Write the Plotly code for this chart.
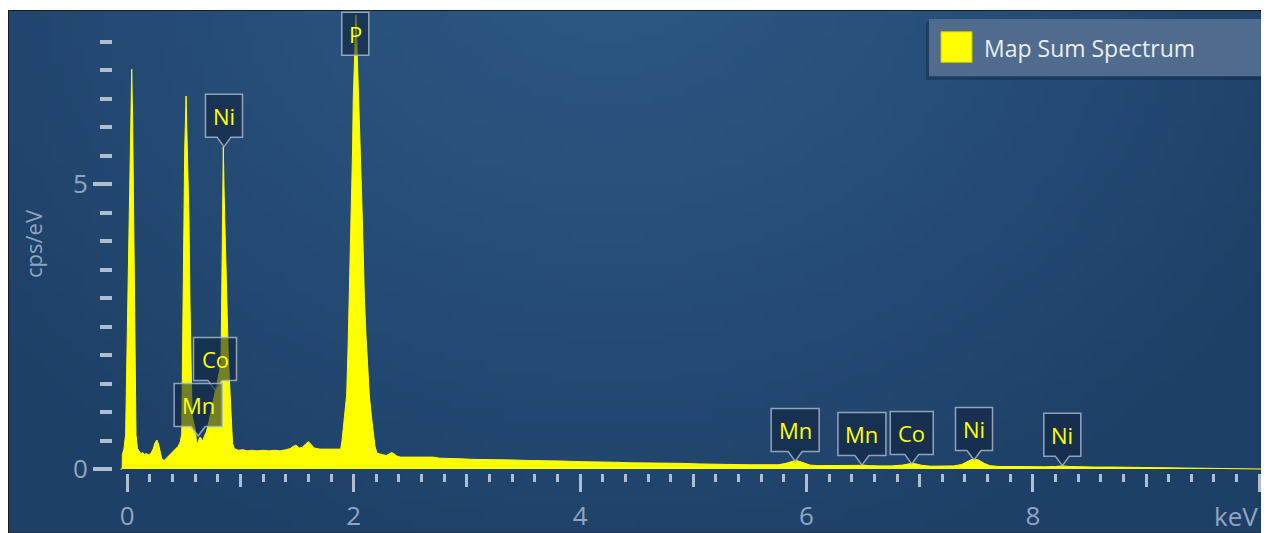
import base64
import struct
import zlib
import plotly.graph_objects as go

# ---------------- data ----------------
energy_kev = [
    -0.060, -0.045, -0.044, -0.030, -0.015, -0.005, 0.004, 0.018, 0.030, 0.039,
    0.047, 0.053, 0.062, 0.068, 0.077, 0.090, 0.105, 0.120, 0.135, 0.150,
    0.170, 0.190, 0.210, 0.230, 0.245, 0.262, 0.275, 0.290, 0.305, 0.325,
    0.345, 0.362, 0.385, 0.406, 0.430, 0.450, 0.468, 0.481, 0.487, 0.491,
    0.497, 0.507, 0.519, 0.531, 0.545, 0.554, 0.563, 0.572, 0.585, 0.598,
    0.610, 0.618, 0.630, 0.642, 0.655, 0.666, 0.680, 0.700, 0.720, 0.740,
    0.760, 0.780, 0.800, 0.815, 0.828, 0.835, 0.842, 0.848, 0.856, 0.866,
    0.878, 0.892, 0.905, 0.918, 0.930, 0.945, 0.980, 1.020, 1.060, 1.100,
    1.150, 1.200, 1.250, 1.300, 1.350, 1.400, 1.440, 1.466, 1.490, 1.520,
    1.545, 1.575, 1.600, 1.625, 1.650, 1.700, 1.750, 1.800, 1.850, 1.885,
    1.897, 1.910, 1.925, 1.938, 1.950, 1.961, 1.972, 1.982, 1.990, 1.996,
    2.005, 2.012, 2.020, 2.028, 2.036, 2.049, 2.060, 2.071, 2.083, 2.094,
    2.110, 2.125, 2.138, 2.155, 2.170, 2.188, 2.205, 2.230, 2.260, 2.290,
    2.315, 2.336, 2.355, 2.380, 2.410, 2.460, 2.520, 2.580, 2.640, 2.700,
    2.760, 2.850, 2.950, 3.050, 3.150, 3.250, 3.400, 3.550, 3.700, 3.850,
    4.000, 4.150, 4.300, 4.450, 4.600, 4.750, 4.900, 5.050, 5.200, 5.350,
    5.500, 5.650, 5.750, 5.820, 5.870, 5.900, 5.930, 5.980, 6.030, 6.100,
    6.200, 6.300, 6.400, 6.470, 6.500, 6.550, 6.650, 6.750, 6.850, 6.900,
    6.930, 6.970, 7.020, 7.100, 7.200, 7.300, 7.370, 7.420, 7.470, 7.520,
    7.570, 7.620, 7.700, 7.800, 7.900, 8.000, 8.100, 8.200, 8.260, 8.320,
    8.400, 8.550, 8.700, 8.900, 9.100, 9.300, 9.500, 9.700, 9.900, 10.030,
    10.040,
]
cps_per_ev = [
    0.00, 0.00, 0.25, 0.35, 0.60, 1.80, 3.10, 5.20, 6.30, 7.02,
    6.20, 5.20, 3.10, 1.80, 0.60, 0.36, 0.31, 0.27, 0.29, 0.26,
    0.27, 0.25, 0.28, 0.36, 0.46, 0.51, 0.44, 0.28, 0.18, 0.15,
    0.19, 0.23, 0.27, 0.32, 0.36, 0.40, 0.48, 0.62, 1.80, 2.90,
    4.40, 5.60, 6.55, 5.50, 4.40, 2.90, 1.80, 0.95, 0.82, 0.72,
    0.50, 0.43, 0.50, 0.56, 0.53, 0.49, 0.57, 0.66, 0.82, 1.00,
    1.20, 1.38, 1.58, 1.72, 1.88, 3.00, 4.70, 5.66, 4.80, 3.95,
    2.90, 2.00, 1.45, 0.85, 0.45, 0.36, 0.33, 0.34, 0.32, 0.33,
    0.32, 0.33, 0.32, 0.33, 0.32, 0.34, 0.36, 0.40, 0.42, 0.37,
    0.38, 0.44, 0.48, 0.43, 0.37, 0.35, 0.35, 0.34, 0.35, 0.35,
    0.50, 0.80, 1.10, 1.30, 2.10, 3.03, 3.90, 4.76, 5.60, 6.49,
    7.20, 7.70, 7.97, 7.50, 7.00, 6.49, 5.60, 4.76, 3.90, 3.03,
    2.30, 1.75, 1.30, 0.95, 0.70, 0.40, 0.28, 0.26, 0.25, 0.24,
    0.26, 0.29, 0.27, 0.23, 0.21, 0.21, 0.20, 0.21, 0.20, 0.21,
    0.19, 0.19, 0.18, 0.17, 0.17, 0.16, 0.16, 0.15, 0.15, 0.14,
    0.13, 0.13, 0.12, 0.11, 0.11, 0.10, 0.10, 0.09, 0.09, 0.08,
    0.075, 0.07, 0.075, 0.10, 0.135, 0.15, 0.14, 0.10, 0.07, 0.06,
    0.06, 0.055, 0.055, 0.065, 0.07, 0.06, 0.055, 0.055, 0.07, 0.09,
    0.10, 0.09, 0.065, 0.05, 0.05, 0.055, 0.08, 0.13, 0.18, 0.16,
    0.10, 0.06, 0.045, 0.045, 0.04, 0.04, 0.04, 0.045, 0.055, 0.045,
    0.04, 0.035, 0.035, 0.03, 0.03, 0.025, 0.022, 0.02, 0.015, 0.012,
    0.0,
]
series_name = "Map Sum Spectrum"

label_text = ["P", "Ni", "Co", "Mn", "Mn", "Mn", "Co", "Ni", "Ni"]
label_kev = [2.014, 0.854, 0.775, 0.626, 5.90, 6.49, 6.93, 7.48, 8.26]
label_cps = [7.10, 5.66, 1.39, 0.58, 0.14, 0.07, 0.09, 0.16, 0.06]
label_has_pointer = [False, True, True, True, True, True, True, True, True]

x_tick_values = [0, 2, 4, 6, 8, 10]
x_tick_labels = ["0", "2", "4", "6", "8", ""]
x_unit_label = "keV"
x_mid_tick_values = [1, 3, 5, 7, 9]
x_minor_tick_values = [round(0.2 * i, 1) for i in range(51) if i % 5]
y_tick_values = [0, 5]
y_tick_labels = ["0", "5"]
y_minor_tick_values = [0.5 * i for i in range(1, 16) if i != 10]
y_title = "cps/eV"

# ---------------- styling / geometry ----------------
# the page body adds an 8 px margin, so the figure starts at (8, 8)
OFF = 8
W, H = 1261, 525
ML, MR, MT, MB = 105, 0, 3, 54
PW = W - ML - MR
PH = H - MT - MB
X_RANGE = [-0.1263, 10.086]
Y_RANGE = [-0.0693, 8.0416]
FONT = "Open Sans"
YELLOW = "#ffff00"
TICK_COLOR = "#aebdcf"
LABEL_COLOR = "#90a6bf"
BOX_WIDTH = {"P": 27, "Ni": 37, "Co": 43, "Mn": 48}


def px(xp):
    """window pixel x -> paper x"""
    return (xp - OFF - ML) / PW


def py(yp):
    """window pixel y -> paper y"""
    return (H - MB - (yp - OFF)) / PH


def gradient_png(w, h, c0, c1):
    rows = []
    for j in range(h):
        row = bytearray([0])
        for i in range(w):
            dx = (i / (w - 1) - 0.47) / 0.62
            dy = (j / (h - 1) + 0.12) / 1.25
            t = min(1.0, (dx * dx + dy * dy) ** 0.5) ** 1.2
            row += bytes(int(round(a + (b - a) * t)) for a, b in zip(c0, c1))
        rows.append(bytes(row))
    raw = b"".join(rows)

    def chunk(tag, data):
        return (struct.pack(">I", len(data)) + tag + data
                + struct.pack(">I", zlib.crc32(tag + data) & 0xFFFFFFFF))

    png = (b"\x89PNG\r\n\x1a\n"
           + chunk(b"IHDR", struct.pack(">IIBBBBB", w, h, 8, 2, 0, 0, 0))
           + chunk(b"IDAT", zlib.compress(raw, 9))
           + chunk(b"IEND", b""))
    return "data:image/png;base64," + base64.b64encode(png).decode()


bg_src = gradient_png(128, 54, (44, 88, 132), (30, 63, 102))

fig = go.Figure()
fig.add_trace(go.Scatter(
    x=energy_kev, y=cps_per_ev, name=series_name, mode="lines",
    fill="tozeroy", fillcolor=YELLOW, line=dict(color=YELLOW, width=1),
    showlegend=False, hoverinfo="skip",
))
fig.add_trace(go.Scatter(x=[], y=[], xaxis="x2", showlegend=False))

shapes = []
annotations = []

# peak callouts
for txt, e, v, ptr in zip(label_text, label_kev, label_cps, label_has_pointer):
    w = BOX_WIDTH[txt]
    hw = w / 2
    if ptr:
        path = (f"M0,0 L-7,9.5 L{-hw},9.5 L{-hw},52.5 L{hw},52.5 "
                f"L{hw},9.5 L7,9.5 Z")
    else:
        path = f"M{-hw},9.5 L{-hw},52.5 L{hw},52.5 L{hw},9.5 Z"
    shapes.append(dict(
        type="path", xref="x", yref="y", xsizemode="pixel", ysizemode="pixel",
        xanchor=e, yanchor=v, path=path, layer="above",
        fillcolor="rgba(18,35,60,0.58)",
        line=dict(color="rgba(165,182,204,0.85)", width=1.5),
    ))
    annotations.append(dict(
        x=e, y=v, xref="x", yref="y", text=txt, showarrow=False, yshift=31,
        font=dict(family=FONT, size=22, color=YELLOW),
    ))

# panel border
shapes.append(dict(type="rect", xref="paper", yref="paper",
                   x0=px(8.5), x1=px(1275), y0=py(540), y1=py(10.5),
                   line=dict(color="#1b1b1b", width=1), layer="above"))

# legend (drawn manually)
shapes.append(dict(type="rect", xref="paper", yref="paper",
                   x0=px(926), x1=px(1280), y0=py(81), y1=py(22),
                   fillcolor="rgba(8,22,42,0.30)", line=dict(width=0),
                   layer="above"))
shapes.append(dict(type="rect", xref="paper", yref="paper",
                   x0=px(929), x1=px(1280), y0=py(77), y1=py(19),
                   fillcolor="#4f6b8d", line=dict(width=0), layer="above"))
shapes.append(dict(type="rect", xref="paper", yref="paper",
                   x0=px(941), x1=px(972), y0=py(63), y1=py(32),
                   fillcolor=YELLOW, line=dict(color="#c9c600", width=1),
                   layer="above"))
annotations.append(dict(
    x=px(982), y=py(48), xref="paper", yref="paper", xanchor="left",
    yanchor="middle", text=series_name, showarrow=False,
    font=dict(family=FONT, size=23, color="#e9eef4"),
))

# y-axis title
annotations.append(dict(
    x=px(33), y=py(247), xref="paper", yref="paper", xanchor="center",
    yanchor="middle", text=y_title, showarrow=False, textangle=-90,
    font=dict(family=FONT, size=22, color=LABEL_COLOR),
))

# x unit label at the right end of the axis (kept inside the page)
annotations.append(dict(
    x=px(1260), y=py(523), xref="paper", yref="paper", xanchor="right",
    yanchor="middle", text=x_unit_label, showarrow=False,
    font=dict(family=FONT, size=26, color=LABEL_COLOR),
))

fig.update_layout(
    width=W, height=H,
    margin=dict(l=ML, r=MR, t=MT, b=MB, pad=0),
    paper_bgcolor="white",
    plot_bgcolor="rgba(0,0,0,0)",
    font=dict(family=FONT, color=LABEL_COLOR),
    showlegend=False,
    images=[dict(source=bg_src, xref="paper", yref="paper",
                 x=px(8), y=py(10), sizex=1280 / PW, sizey=540 / PH,
                 xanchor="left", yanchor="top", sizing="stretch",
                 layer="below")],
    shapes=shapes,
    annotations=annotations,
    xaxis=dict(
        range=X_RANGE, showgrid=False, zeroline=False, showline=False,
        ticks="outside", ticklen=18, tickwidth=3, tickcolor=TICK_COLOR,
        tickmode="array", tickvals=x_tick_values, ticktext=x_tick_labels,
        tickfont=dict(family=FONT, size=26, color=LABEL_COLOR),
        ticklabelstandoff=2,
        minor=dict(tickmode="array", tickvals=x_minor_tick_values,
                   ticks="outside", ticklen=8, tickwidth=3,
                   tickcolor=TICK_COLOR, showgrid=False),
        fixedrange=True,
    ),
    xaxis2=dict(
        range=X_RANGE, overlaying="x", anchor="y", side="bottom",
        showgrid=False, zeroline=False, showline=False,
        ticks="outside", ticklen=13, tickwidth=3, tickcolor=TICK_COLOR,
        tickmode="array", tickvals=x_mid_tick_values,
        showticklabels=False, fixedrange=True,
    ),
    yaxis=dict(
        range=Y_RANGE, showgrid=False, zeroline=False, showline=False,
        ticks="outside", ticklen=19, tickwidth=4, tickcolor=TICK_COLOR,
        tickmode="array", tickvals=y_tick_values, ticktext=y_tick_labels,
        tickfont=dict(family=FONT, size=26, color=LABEL_COLOR),
        minor=dict(tickmode="array", tickvals=y_minor_tick_values,
                   ticks="outside", ticklen=12, tickwidth=4,
                   tickcolor=TICK_COLOR, showgrid=False),
        fixedrange=True,
    ),
)

fig.write_html("out.html")
